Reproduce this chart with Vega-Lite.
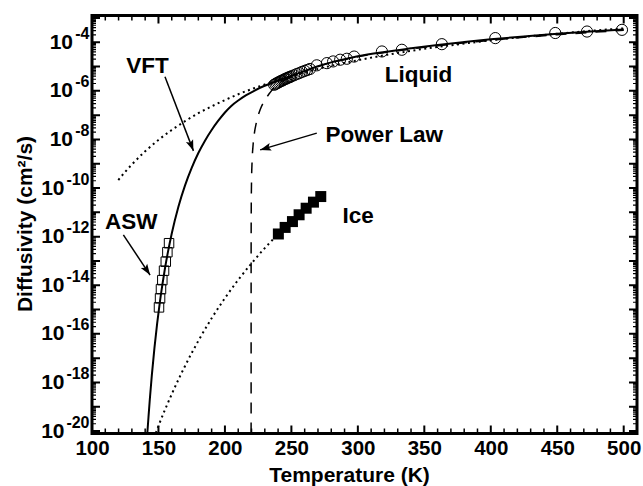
{
  "$schema": "https://vega.github.io/schema/vega-lite/v6.json",
  "width": 545,
  "height": 418,
  "autosize": "none",
  "padding": {"left": 92, "top": 15.5, "right": 6, "bottom": 52.5},
  "config": {
    "view": {"stroke": "black", "strokeWidth": 3},
    "font": "Liberation Sans",
    "axis": {"labelFont": "Liberation Sans", "titleFont": "Liberation Sans", "labelFontWeight": "bold", "titleFontWeight": "bold", "labelColor": "black", "titleColor": "black", "domain": false, "ticks": false, "grid": false, "labelFlush": false, "labelOverlap": false}
  },
  "datasets": {
    "liquid": [
      {"T": 237, "log10_D": -5.75}, {"T": 238, "log10_D": -5.72}, {"T": 239, "log10_D": -5.69}, {"T": 240, "log10_D": -5.66},
      {"T": 241, "log10_D": -5.63}, {"T": 242, "log10_D": -5.6}, {"T": 243, "log10_D": -5.58}, {"T": 244, "log10_D": -5.55},
      {"T": 245, "log10_D": -5.52}, {"T": 246, "log10_D": -5.5}, {"T": 247, "log10_D": -5.47}, {"T": 248, "log10_D": -5.45},
      {"T": 249, "log10_D": -5.43}, {"T": 250, "log10_D": -5.4}, {"T": 252, "log10_D": -5.36}, {"T": 254, "log10_D": -5.31},
      {"T": 256, "log10_D": -5.27}, {"T": 258, "log10_D": -5.22}, {"T": 260, "log10_D": -5.18}, {"T": 262, "log10_D": -5.14},
      {"T": 264, "log10_D": -5.1}, {"T": 269.1, "log10_D": -4.95}, {"T": 276.7, "log10_D": -4.86}, {"T": 281.4, "log10_D": -4.79},
      {"T": 286.7, "log10_D": -4.72}, {"T": 291.7, "log10_D": -4.68}, {"T": 297.2, "log10_D": -4.59}, {"T": 318.1, "log10_D": -4.38},
      {"T": 333.1, "log10_D": -4.31}, {"T": 363.2, "log10_D": -4.08}, {"T": 403.4, "log10_D": -3.83}, {"T": 448.5, "log10_D": -3.62},
      {"T": 472.4, "log10_D": -3.56}, {"T": 498.7, "log10_D": -3.49}
    ],
    "asw": [
      {"T": 157.96, "log10_D": -12.27}, {"T": 156.7, "log10_D": -12.64}, {"T": 155.5, "log10_D": -13.03}, {"T": 154.2, "log10_D": -13.4},
      {"T": 152.9, "log10_D": -13.79}, {"T": 151.9, "log10_D": -14.16}, {"T": 151.2, "log10_D": -14.54}, {"T": 150.4, "log10_D": -14.91}
    ],
    "ice": [
      {"T": 240.2, "log10_D": -11.89}, {"T": 245.3, "log10_D": -11.62}, {"T": 250.8, "log10_D": -11.38}, {"T": 255.8, "log10_D": -11.1},
      {"T": 261.1, "log10_D": -10.83}, {"T": 266.6, "log10_D": -10.58}, {"T": 272.1, "log10_D": -10.35}
    ],
    "vft": [
      {"T": 141.6, "log10_D": -20.1}, {"T": 142.5, "log10_D": -19.42}, {"T": 143.5, "log10_D": -18.69}, {"T": 145, "log10_D": -17.71},
      {"T": 147, "log10_D": -16.57}, {"T": 149, "log10_D": -15.58}, {"T": 151, "log10_D": -14.71}, {"T": 153, "log10_D": -13.95},
      {"T": 155, "log10_D": -13.27}, {"T": 157, "log10_D": -12.67}, {"T": 160, "log10_D": -11.87}, {"T": 165, "log10_D": -10.77},
      {"T": 170, "log10_D": -9.89}, {"T": 175, "log10_D": -9.17}, {"T": 180, "log10_D": -8.56}, {"T": 185, "log10_D": -8.05},
      {"T": 190, "log10_D": -7.61}, {"T": 195, "log10_D": -7.23}, {"T": 200, "log10_D": -6.89}, {"T": 205, "log10_D": -6.61},
      {"T": 210, "log10_D": -6.4}, {"T": 216, "log10_D": -6.18}, {"T": 222, "log10_D": -6.0}, {"T": 229, "log10_D": -5.81},
      {"T": 236, "log10_D": -5.66}, {"T": 240, "log10_D": -5.58}, {"T": 245, "log10_D": -5.48}, {"T": 250, "log10_D": -5.38},
      {"T": 255, "log10_D": -5.28}, {"T": 260, "log10_D": -5.18}, {"T": 265, "log10_D": -5.08}, {"T": 270, "log10_D": -4.99},
      {"T": 280, "log10_D": -4.83}, {"T": 290, "log10_D": -4.7}, {"T": 300, "log10_D": -4.58}, {"T": 320, "log10_D": -4.4},
      {"T": 340, "log10_D": -4.25}, {"T": 360, "log10_D": -4.11}, {"T": 380, "log10_D": -3.99}, {"T": 400, "log10_D": -3.88},
      {"T": 425, "log10_D": -3.76}, {"T": 450, "log10_D": -3.65}, {"T": 475, "log10_D": -3.56}, {"T": 500, "log10_D": -3.48}
    ],
    "power": [
      {"T": 219.7, "log10_D": -20.1}, {"T": 219.701, "log10_D": -15.2}, {"T": 219.71, "log10_D": -13.0}, {"T": 219.75, "log10_D": -11.47},
      {"T": 219.8, "log10_D": -10.81}, {"T": 220.0, "log10_D": -9.76}, {"T": 220.4, "log10_D": -8.95}, {"T": 221.2, "log10_D": -8.22},
      {"T": 222.2, "log10_D": -7.73}, {"T": 223.7, "log10_D": -7.29}, {"T": 226.7, "log10_D": -6.75}, {"T": 229.7, "log10_D": -6.41},
      {"T": 233.7, "log10_D": -6.09}, {"T": 237.7, "log10_D": -5.82}, {"T": 241, "log10_D": -5.68}, {"T": 245, "log10_D": -5.55},
      {"T": 250, "log10_D": -5.42}, {"T": 260, "log10_D": -5.19}, {"T": 270, "log10_D": -5.0}, {"T": 280, "log10_D": -4.84},
      {"T": 300, "log10_D": -4.6}, {"T": 325, "log10_D": -4.39}, {"T": 350, "log10_D": -4.21}, {"T": 400, "log10_D": -3.92},
      {"T": 450, "log10_D": -3.69}, {"T": 500, "log10_D": -3.51}
    ],
    "arr_liquid": [
      {"T": 119.8, "log10_D": -9.67}, {"T": 125, "log10_D": -9.33}, {"T": 130, "log10_D": -9.03}, {"T": 140, "log10_D": -8.49},
      {"T": 150, "log10_D": -8.02}, {"T": 160, "log10_D": -7.61}, {"T": 170, "log10_D": -7.25}, {"T": 180, "log10_D": -6.92},
      {"T": 190, "log10_D": -6.64}, {"T": 200, "log10_D": -6.38}, {"T": 210, "log10_D": -6.14}, {"T": 220, "log10_D": -5.93},
      {"T": 230, "log10_D": -5.74}, {"T": 240, "log10_D": -5.56}, {"T": 250, "log10_D": -5.4}, {"T": 260, "log10_D": -5.24},
      {"T": 280, "log10_D": -4.97}, {"T": 300, "log10_D": -4.74}, {"T": 325, "log10_D": -4.49}, {"T": 350, "log10_D": -4.27},
      {"T": 375, "log10_D": -4.09}, {"T": 400, "log10_D": -3.92}, {"T": 425, "log10_D": -3.78}, {"T": 450, "log10_D": -3.65},
      {"T": 475, "log10_D": -3.53}, {"T": 500, "log10_D": -3.43}
    ],
    "arr_ice": [
      {"T": 148, "log10_D": -20.08}, {"T": 150, "log10_D": -19.79}, {"T": 155, "log10_D": -19.11}, {"T": 160, "log10_D": -18.48},
      {"T": 170, "log10_D": -17.32}, {"T": 180, "log10_D": -16.29}, {"T": 190, "log10_D": -15.36}, {"T": 200, "log10_D": -14.53},
      {"T": 210, "log10_D": -13.78}, {"T": 220, "log10_D": -13.1}, {"T": 230, "log10_D": -12.47}, {"T": 240, "log10_D": -11.9}
    ],
    "arrows": [
      {"name": "VFT", "T": 154.9, "log10_D": -5.42, "T2": 176.3, "log10_D2": -8.47},
      {"name": "ASW", "T": 123.6, "log10_D": -11.93, "T2": 143.7, "log10_D2": -13.58},
      {"name": "Power Law", "T": 269.1, "log10_D": -7.74, "T2": 226.5, "log10_D2": -8.43}
    ],
    "labels": [
      {"text": "VFT", "T": 141.75, "log10_D": -5.28},
      {"text": "ASW", "T": 129.6, "log10_D": -11.7},
      {"text": "Power Law", "T": 319.9, "log10_D": -8.12},
      {"text": "Liquid", "T": 345.6, "log10_D": -5.62},
      {"text": "Ice", "T": 300.2, "log10_D": -11.45}
    ],
    "x_major_ticks": [
      {"T": 150, "log10_D": -20.1}, {"T": 200, "log10_D": -20.1}, {"T": 250, "log10_D": -20.1}, {"T": 300, "log10_D": -20.1}, {"T": 350, "log10_D": -20.1}, {"T": 400, "log10_D": -20.1}, {"T": 450, "log10_D": -20.1}, {"T": 500, "log10_D": -20.1},
      {"T": 150, "log10_D": -2.9}, {"T": 200, "log10_D": -2.9}, {"T": 250, "log10_D": -2.9}, {"T": 300, "log10_D": -2.9}, {"T": 350, "log10_D": -2.9}, {"T": 400, "log10_D": -2.9}, {"T": 450, "log10_D": -2.9}, {"T": 500, "log10_D": -2.9}
    ],
    "x_minor_ticks": [
      {"T": 110, "log10_D": -20.1}, {"T": 120, "log10_D": -20.1}, {"T": 130, "log10_D": -20.1}, {"T": 140, "log10_D": -20.1}, {"T": 160, "log10_D": -20.1}, {"T": 170, "log10_D": -20.1}, {"T": 180, "log10_D": -20.1}, {"T": 190, "log10_D": -20.1},
      {"T": 210, "log10_D": -20.1}, {"T": 220, "log10_D": -20.1}, {"T": 230, "log10_D": -20.1}, {"T": 240, "log10_D": -20.1}, {"T": 260, "log10_D": -20.1}, {"T": 270, "log10_D": -20.1}, {"T": 280, "log10_D": -20.1}, {"T": 290, "log10_D": -20.1},
      {"T": 310, "log10_D": -20.1}, {"T": 320, "log10_D": -20.1}, {"T": 330, "log10_D": -20.1}, {"T": 340, "log10_D": -20.1}, {"T": 360, "log10_D": -20.1}, {"T": 370, "log10_D": -20.1}, {"T": 380, "log10_D": -20.1}, {"T": 390, "log10_D": -20.1},
      {"T": 410, "log10_D": -20.1}, {"T": 420, "log10_D": -20.1}, {"T": 430, "log10_D": -20.1}, {"T": 440, "log10_D": -20.1}, {"T": 460, "log10_D": -20.1}, {"T": 470, "log10_D": -20.1}, {"T": 480, "log10_D": -20.1}, {"T": 490, "log10_D": -20.1},
      {"T": 110, "log10_D": -2.9}, {"T": 120, "log10_D": -2.9}, {"T": 130, "log10_D": -2.9}, {"T": 140, "log10_D": -2.9}, {"T": 160, "log10_D": -2.9}, {"T": 170, "log10_D": -2.9}, {"T": 180, "log10_D": -2.9}, {"T": 190, "log10_D": -2.9},
      {"T": 210, "log10_D": -2.9}, {"T": 220, "log10_D": -2.9}, {"T": 230, "log10_D": -2.9}, {"T": 240, "log10_D": -2.9}, {"T": 260, "log10_D": -2.9}, {"T": 270, "log10_D": -2.9}, {"T": 280, "log10_D": -2.9}, {"T": 290, "log10_D": -2.9},
      {"T": 310, "log10_D": -2.9}, {"T": 320, "log10_D": -2.9}, {"T": 330, "log10_D": -2.9}, {"T": 340, "log10_D": -2.9}, {"T": 360, "log10_D": -2.9}, {"T": 370, "log10_D": -2.9}, {"T": 380, "log10_D": -2.9}, {"T": 390, "log10_D": -2.9},
      {"T": 410, "log10_D": -2.9}, {"T": 420, "log10_D": -2.9}, {"T": 430, "log10_D": -2.9}, {"T": 440, "log10_D": -2.9}, {"T": 460, "log10_D": -2.9}, {"T": 470, "log10_D": -2.9}, {"T": 480, "log10_D": -2.9}, {"T": 490, "log10_D": -2.9}
    ],
    "y_major_ticks": [
      {"T": 100, "log10_D": -20}, {"T": 100, "log10_D": -19}, {"T": 100, "log10_D": -18}, {"T": 100, "log10_D": -17}, {"T": 100, "log10_D": -16}, {"T": 100, "log10_D": -15}, {"T": 100, "log10_D": -14}, {"T": 100, "log10_D": -13}, {"T": 100, "log10_D": -12},
      {"T": 100, "log10_D": -11}, {"T": 100, "log10_D": -10}, {"T": 100, "log10_D": -9}, {"T": 100, "log10_D": -8}, {"T": 100, "log10_D": -7}, {"T": 100, "log10_D": -6}, {"T": 100, "log10_D": -5}, {"T": 100, "log10_D": -4}, {"T": 100, "log10_D": -3},
      {"T": 510, "log10_D": -20}, {"T": 510, "log10_D": -19}, {"T": 510, "log10_D": -18}, {"T": 510, "log10_D": -17}, {"T": 510, "log10_D": -16}, {"T": 510, "log10_D": -15}, {"T": 510, "log10_D": -14}, {"T": 510, "log10_D": -13}, {"T": 510, "log10_D": -12},
      {"T": 510, "log10_D": -11}, {"T": 510, "log10_D": -10}, {"T": 510, "log10_D": -9}, {"T": 510, "log10_D": -8}, {"T": 510, "log10_D": -7}, {"T": 510, "log10_D": -6}, {"T": 510, "log10_D": -5}, {"T": 510, "log10_D": -4}, {"T": 510, "log10_D": -3}
    ],
    "y_minor_ticks": [
      {"T": 100, "log10_D": -20.09691}, {"T": 100, "log10_D": -20.04576},
      {"T": 100, "log10_D": -19.69897}, {"T": 100, "log10_D": -19.52288}, {"T": 100, "log10_D": -19.39794}, {"T": 100, "log10_D": -19.30103}, {"T": 100, "log10_D": -19.22185}, {"T": 100, "log10_D": -19.1549}, {"T": 100, "log10_D": -19.09691}, {"T": 100, "log10_D": -19.04576},
      {"T": 100, "log10_D": -18.69897}, {"T": 100, "log10_D": -18.52288}, {"T": 100, "log10_D": -18.39794}, {"T": 100, "log10_D": -18.30103}, {"T": 100, "log10_D": -18.22185}, {"T": 100, "log10_D": -18.1549}, {"T": 100, "log10_D": -18.09691}, {"T": 100, "log10_D": -18.04576},
      {"T": 100, "log10_D": -17.69897}, {"T": 100, "log10_D": -17.52288}, {"T": 100, "log10_D": -17.39794}, {"T": 100, "log10_D": -17.30103}, {"T": 100, "log10_D": -17.22185}, {"T": 100, "log10_D": -17.1549}, {"T": 100, "log10_D": -17.09691}, {"T": 100, "log10_D": -17.04576},
      {"T": 100, "log10_D": -16.69897}, {"T": 100, "log10_D": -16.52288}, {"T": 100, "log10_D": -16.39794}, {"T": 100, "log10_D": -16.30103}, {"T": 100, "log10_D": -16.22185}, {"T": 100, "log10_D": -16.1549}, {"T": 100, "log10_D": -16.09691}, {"T": 100, "log10_D": -16.04576},
      {"T": 100, "log10_D": -15.69897}, {"T": 100, "log10_D": -15.52288}, {"T": 100, "log10_D": -15.39794}, {"T": 100, "log10_D": -15.30103}, {"T": 100, "log10_D": -15.22185}, {"T": 100, "log10_D": -15.1549}, {"T": 100, "log10_D": -15.09691}, {"T": 100, "log10_D": -15.04576},
      {"T": 100, "log10_D": -14.69897}, {"T": 100, "log10_D": -14.52288}, {"T": 100, "log10_D": -14.39794}, {"T": 100, "log10_D": -14.30103}, {"T": 100, "log10_D": -14.22185}, {"T": 100, "log10_D": -14.1549}, {"T": 100, "log10_D": -14.09691}, {"T": 100, "log10_D": -14.04576},
      {"T": 100, "log10_D": -13.69897}, {"T": 100, "log10_D": -13.52288}, {"T": 100, "log10_D": -13.39794}, {"T": 100, "log10_D": -13.30103}, {"T": 100, "log10_D": -13.22185}, {"T": 100, "log10_D": -13.1549}, {"T": 100, "log10_D": -13.09691}, {"T": 100, "log10_D": -13.04576},
      {"T": 100, "log10_D": -12.69897}, {"T": 100, "log10_D": -12.52288}, {"T": 100, "log10_D": -12.39794}, {"T": 100, "log10_D": -12.30103}, {"T": 100, "log10_D": -12.22185}, {"T": 100, "log10_D": -12.1549}, {"T": 100, "log10_D": -12.09691}, {"T": 100, "log10_D": -12.04576},
      {"T": 100, "log10_D": -11.69897}, {"T": 100, "log10_D": -11.52288}, {"T": 100, "log10_D": -11.39794}, {"T": 100, "log10_D": -11.30103}, {"T": 100, "log10_D": -11.22185}, {"T": 100, "log10_D": -11.1549}, {"T": 100, "log10_D": -11.09691}, {"T": 100, "log10_D": -11.04576},
      {"T": 100, "log10_D": -10.69897}, {"T": 100, "log10_D": -10.52288}, {"T": 100, "log10_D": -10.39794}, {"T": 100, "log10_D": -10.30103}, {"T": 100, "log10_D": -10.22185}, {"T": 100, "log10_D": -10.1549}, {"T": 100, "log10_D": -10.09691}, {"T": 100, "log10_D": -10.04576},
      {"T": 100, "log10_D": -9.69897}, {"T": 100, "log10_D": -9.52288}, {"T": 100, "log10_D": -9.39794}, {"T": 100, "log10_D": -9.30103}, {"T": 100, "log10_D": -9.22185}, {"T": 100, "log10_D": -9.1549}, {"T": 100, "log10_D": -9.09691}, {"T": 100, "log10_D": -9.04576},
      {"T": 100, "log10_D": -8.69897}, {"T": 100, "log10_D": -8.52288}, {"T": 100, "log10_D": -8.39794}, {"T": 100, "log10_D": -8.30103}, {"T": 100, "log10_D": -8.22185}, {"T": 100, "log10_D": -8.1549}, {"T": 100, "log10_D": -8.09691}, {"T": 100, "log10_D": -8.04576},
      {"T": 100, "log10_D": -7.69897}, {"T": 100, "log10_D": -7.52288}, {"T": 100, "log10_D": -7.39794}, {"T": 100, "log10_D": -7.30103}, {"T": 100, "log10_D": -7.22185}, {"T": 100, "log10_D": -7.1549}, {"T": 100, "log10_D": -7.09691}, {"T": 100, "log10_D": -7.04576},
      {"T": 100, "log10_D": -6.69897}, {"T": 100, "log10_D": -6.52288}, {"T": 100, "log10_D": -6.39794}, {"T": 100, "log10_D": -6.30103}, {"T": 100, "log10_D": -6.22185}, {"T": 100, "log10_D": -6.1549}, {"T": 100, "log10_D": -6.09691}, {"T": 100, "log10_D": -6.04576},
      {"T": 100, "log10_D": -5.69897}, {"T": 100, "log10_D": -5.52288}, {"T": 100, "log10_D": -5.39794}, {"T": 100, "log10_D": -5.30103}, {"T": 100, "log10_D": -5.22185}, {"T": 100, "log10_D": -5.1549}, {"T": 100, "log10_D": -5.09691}, {"T": 100, "log10_D": -5.04576},
      {"T": 100, "log10_D": -4.69897}, {"T": 100, "log10_D": -4.52288}, {"T": 100, "log10_D": -4.39794}, {"T": 100, "log10_D": -4.30103}, {"T": 100, "log10_D": -4.22185}, {"T": 100, "log10_D": -4.1549}, {"T": 100, "log10_D": -4.09691}, {"T": 100, "log10_D": -4.04576},
      {"T": 100, "log10_D": -3.69897}, {"T": 100, "log10_D": -3.52288}, {"T": 100, "log10_D": -3.39794}, {"T": 100, "log10_D": -3.30103}, {"T": 100, "log10_D": -3.22185}, {"T": 100, "log10_D": -3.1549}, {"T": 100, "log10_D": -3.09691}, {"T": 100, "log10_D": -3.04576},
      {"T": 510, "log10_D": -20.09691}, {"T": 510, "log10_D": -20.04576},
      {"T": 510, "log10_D": -19.69897}, {"T": 510, "log10_D": -19.52288}, {"T": 510, "log10_D": -19.39794}, {"T": 510, "log10_D": -19.30103}, {"T": 510, "log10_D": -19.22185}, {"T": 510, "log10_D": -19.1549}, {"T": 510, "log10_D": -19.09691}, {"T": 510, "log10_D": -19.04576},
      {"T": 510, "log10_D": -18.69897}, {"T": 510, "log10_D": -18.52288}, {"T": 510, "log10_D": -18.39794}, {"T": 510, "log10_D": -18.30103}, {"T": 510, "log10_D": -18.22185}, {"T": 510, "log10_D": -18.1549}, {"T": 510, "log10_D": -18.09691}, {"T": 510, "log10_D": -18.04576},
      {"T": 510, "log10_D": -17.69897}, {"T": 510, "log10_D": -17.52288}, {"T": 510, "log10_D": -17.39794}, {"T": 510, "log10_D": -17.30103}, {"T": 510, "log10_D": -17.22185}, {"T": 510, "log10_D": -17.1549}, {"T": 510, "log10_D": -17.09691}, {"T": 510, "log10_D": -17.04576},
      {"T": 510, "log10_D": -16.69897}, {"T": 510, "log10_D": -16.52288}, {"T": 510, "log10_D": -16.39794}, {"T": 510, "log10_D": -16.30103}, {"T": 510, "log10_D": -16.22185}, {"T": 510, "log10_D": -16.1549}, {"T": 510, "log10_D": -16.09691}, {"T": 510, "log10_D": -16.04576},
      {"T": 510, "log10_D": -15.69897}, {"T": 510, "log10_D": -15.52288}, {"T": 510, "log10_D": -15.39794}, {"T": 510, "log10_D": -15.30103}, {"T": 510, "log10_D": -15.22185}, {"T": 510, "log10_D": -15.1549}, {"T": 510, "log10_D": -15.09691}, {"T": 510, "log10_D": -15.04576},
      {"T": 510, "log10_D": -14.69897}, {"T": 510, "log10_D": -14.52288}, {"T": 510, "log10_D": -14.39794}, {"T": 510, "log10_D": -14.30103}, {"T": 510, "log10_D": -14.22185}, {"T": 510, "log10_D": -14.1549}, {"T": 510, "log10_D": -14.09691}, {"T": 510, "log10_D": -14.04576},
      {"T": 510, "log10_D": -13.69897}, {"T": 510, "log10_D": -13.52288}, {"T": 510, "log10_D": -13.39794}, {"T": 510, "log10_D": -13.30103}, {"T": 510, "log10_D": -13.22185}, {"T": 510, "log10_D": -13.1549}, {"T": 510, "log10_D": -13.09691}, {"T": 510, "log10_D": -13.04576},
      {"T": 510, "log10_D": -12.69897}, {"T": 510, "log10_D": -12.52288}, {"T": 510, "log10_D": -12.39794}, {"T": 510, "log10_D": -12.30103}, {"T": 510, "log10_D": -12.22185}, {"T": 510, "log10_D": -12.1549}, {"T": 510, "log10_D": -12.09691}, {"T": 510, "log10_D": -12.04576},
      {"T": 510, "log10_D": -11.69897}, {"T": 510, "log10_D": -11.52288}, {"T": 510, "log10_D": -11.39794}, {"T": 510, "log10_D": -11.30103}, {"T": 510, "log10_D": -11.22185}, {"T": 510, "log10_D": -11.1549}, {"T": 510, "log10_D": -11.09691}, {"T": 510, "log10_D": -11.04576},
      {"T": 510, "log10_D": -10.69897}, {"T": 510, "log10_D": -10.52288}, {"T": 510, "log10_D": -10.39794}, {"T": 510, "log10_D": -10.30103}, {"T": 510, "log10_D": -10.22185}, {"T": 510, "log10_D": -10.1549}, {"T": 510, "log10_D": -10.09691}, {"T": 510, "log10_D": -10.04576},
      {"T": 510, "log10_D": -9.69897}, {"T": 510, "log10_D": -9.52288}, {"T": 510, "log10_D": -9.39794}, {"T": 510, "log10_D": -9.30103}, {"T": 510, "log10_D": -9.22185}, {"T": 510, "log10_D": -9.1549}, {"T": 510, "log10_D": -9.09691}, {"T": 510, "log10_D": -9.04576},
      {"T": 510, "log10_D": -8.69897}, {"T": 510, "log10_D": -8.52288}, {"T": 510, "log10_D": -8.39794}, {"T": 510, "log10_D": -8.30103}, {"T": 510, "log10_D": -8.22185}, {"T": 510, "log10_D": -8.1549}, {"T": 510, "log10_D": -8.09691}, {"T": 510, "log10_D": -8.04576},
      {"T": 510, "log10_D": -7.69897}, {"T": 510, "log10_D": -7.52288}, {"T": 510, "log10_D": -7.39794}, {"T": 510, "log10_D": -7.30103}, {"T": 510, "log10_D": -7.22185}, {"T": 510, "log10_D": -7.1549}, {"T": 510, "log10_D": -7.09691}, {"T": 510, "log10_D": -7.04576},
      {"T": 510, "log10_D": -6.69897}, {"T": 510, "log10_D": -6.52288}, {"T": 510, "log10_D": -6.39794}, {"T": 510, "log10_D": -6.30103}, {"T": 510, "log10_D": -6.22185}, {"T": 510, "log10_D": -6.1549}, {"T": 510, "log10_D": -6.09691}, {"T": 510, "log10_D": -6.04576},
      {"T": 510, "log10_D": -5.69897}, {"T": 510, "log10_D": -5.52288}, {"T": 510, "log10_D": -5.39794}, {"T": 510, "log10_D": -5.30103}, {"T": 510, "log10_D": -5.22185}, {"T": 510, "log10_D": -5.1549}, {"T": 510, "log10_D": -5.09691}, {"T": 510, "log10_D": -5.04576},
      {"T": 510, "log10_D": -4.69897}, {"T": 510, "log10_D": -4.52288}, {"T": 510, "log10_D": -4.39794}, {"T": 510, "log10_D": -4.30103}, {"T": 510, "log10_D": -4.22185}, {"T": 510, "log10_D": -4.1549}, {"T": 510, "log10_D": -4.09691}, {"T": 510, "log10_D": -4.04576},
      {"T": 510, "log10_D": -3.69897}, {"T": 510, "log10_D": -3.52288}, {"T": 510, "log10_D": -3.39794}, {"T": 510, "log10_D": -3.30103}, {"T": 510, "log10_D": -3.22185}, {"T": 510, "log10_D": -3.1549}, {"T": 510, "log10_D": -3.09691}, {"T": 510, "log10_D": -3.04576}
    ]
  },
  "layer": [
    {
      "data": {"name": "arr_liquid"},
      "mark": {"type": "line", "color": "black", "strokeWidth": 2, "strokeDash": [2, 3.5], "interpolate": "monotone", "clip": true},
      "encoding": {
        "x": {"field": "T", "type": "quantitative", "scale": {"domain": [100, 510], "nice": false, "zero": false},
          "axis": {"orient": "bottom", "values": [100, 150, 200, 250, 300, 350, 400, 450, 500], "format": "d", "ticks": false, "labelFontSize": 20.5, "labelPadding": 5, "title": "Temperature (K)", "titleFontSize": 21, "titleBaseline": "alphabetic", "titleY": 47.5, "titleX": 257}},
        "y": {"field": "log10_D", "type": "quantitative", "scale": {"domain": [-20.1, -2.9], "nice": false, "zero": false},
          "axis": {"orient": "left", "values": [-20, -18, -16, -14, -12, -10, -8, -6, -4], "ticks": false, "labelExpr": "'10'", "labelFontSize": 21, "labelAlign": "right", "labelBaseline": "middle", "labelPadding": {"condition": {"test": "datum.value <= -10", "value": 28}, "value": 19.5}, "title": "Diffusivity (cm²/s)", "titleFontSize": 21, "titleBaseline": "alphabetic", "titleAngle": -90, "titleX": -60.3, "titleY": 208}}
      }
    },
    {
      "data": {"name": "arr_ice"},
      "mark": {"type": "line", "color": "black", "strokeWidth": 2, "strokeDash": [2, 3.5], "interpolate": "monotone", "clip": true},
      "encoding": {
        "x": {"field": "T", "type": "quantitative", "scale": {"domain": [100, 510], "nice": false, "zero": false}, "axis": null},
        "y": {"field": "log10_D", "type": "quantitative", "scale": {"domain": [-20.1, -2.9], "nice": false, "zero": false},
          "axis": {"orient": "left", "values": [-20, -18, -16, -14, -12, -10, -8, -6, -4], "ticks": false, "labelExpr": "'' + datum.value", "labelFontSize": 16, "labelAlign": "right", "labelBaseline": "middle", "labelPadding": 3, "labelOffset": -9, "title": null}}
      }
    },
    {
      "data": {"name": "x_major_ticks"},
      "mark": {"type": "tick", "orient": "vertical", "size": 16, "thickness": 2, "color": "black", "opacity": 1, "clip": true},
      "encoding": {
        "x": {"field": "T", "type": "quantitative", "scale": {"domain": [100, 510], "nice": false, "zero": false}, "axis": null},
        "y": {"field": "log10_D", "type": "quantitative", "scale": {"domain": [-20.1, -2.9], "nice": false, "zero": false}, "axis": null}
      }
    },
    {
      "data": {"name": "x_minor_ticks"},
      "mark": {"type": "tick", "orient": "vertical", "size": 10, "thickness": 1.5, "color": "black", "opacity": 1, "clip": true},
      "encoding": {
        "x": {"field": "T", "type": "quantitative", "scale": {"domain": [100, 510], "nice": false, "zero": false}, "axis": null},
        "y": {"field": "log10_D", "type": "quantitative", "scale": {"domain": [-20.1, -2.9], "nice": false, "zero": false}, "axis": null}
      }
    },
    {
      "data": {"name": "y_major_ticks"},
      "mark": {"type": "tick", "orient": "horizontal", "size": 16, "thickness": 2, "color": "black", "opacity": 1, "clip": true},
      "encoding": {
        "x": {"field": "T", "type": "quantitative", "scale": {"domain": [100, 510], "nice": false, "zero": false}, "axis": null},
        "y": {"field": "log10_D", "type": "quantitative", "scale": {"domain": [-20.1, -2.9], "nice": false, "zero": false}, "axis": null}
      }
    },
    {
      "data": {"name": "y_minor_ticks"},
      "mark": {"type": "tick", "orient": "horizontal", "size": 8, "thickness": 1.2, "color": "black", "opacity": 1, "clip": true},
      "encoding": {
        "x": {"field": "T", "type": "quantitative", "scale": {"domain": [100, 510], "nice": false, "zero": false}, "axis": null},
        "y": {"field": "log10_D", "type": "quantitative", "scale": {"domain": [-20.1, -2.9], "nice": false, "zero": false}, "axis": null}
      }
    },
    {
      "data": {"name": "vft"},
      "mark": {"type": "line", "color": "black", "strokeWidth": 2, "interpolate": "monotone", "clip": true},
      "encoding": {
        "x": {"field": "T", "type": "quantitative", "scale": {"domain": [100, 510], "nice": false, "zero": false}, "axis": null},
        "y": {"field": "log10_D", "type": "quantitative", "scale": {"domain": [-20.1, -2.9], "nice": false, "zero": false}, "axis": null}
      }
    },
    {
      "data": {"name": "power"},
      "mark": {"type": "line", "color": "black", "strokeWidth": 1.5, "strokeDash": [11, 9], "interpolate": "monotone", "clip": true},
      "encoding": {
        "x": {"field": "T", "type": "quantitative", "scale": {"domain": [100, 510], "nice": false, "zero": false}, "axis": null},
        "y": {"field": "log10_D", "type": "quantitative", "scale": {"domain": [-20.1, -2.9], "nice": false, "zero": false}, "axis": null}
      }
    },
    {
      "data": {"name": "liquid"},
      "mark": {"type": "point", "shape": "circle", "filled": false, "color": "black", "strokeWidth": 1, "size": 125, "opacity": 1},
      "encoding": {
        "x": {"field": "T", "type": "quantitative", "scale": {"domain": [100, 510], "nice": false, "zero": false}, "axis": null},
        "y": {"field": "log10_D", "type": "quantitative", "scale": {"domain": [-20.1, -2.9], "nice": false, "zero": false}, "axis": null}
      }
    },
    {
      "data": {"name": "asw"},
      "mark": {"type": "point", "shape": "square", "filled": false, "color": "black", "strokeWidth": 1, "size": 90, "opacity": 1},
      "encoding": {
        "x": {"field": "T", "type": "quantitative", "scale": {"domain": [100, 510], "nice": false, "zero": false}, "axis": null},
        "y": {"field": "log10_D", "type": "quantitative", "scale": {"domain": [-20.1, -2.9], "nice": false, "zero": false}, "axis": null}
      }
    },
    {
      "data": {"name": "ice"},
      "mark": {"type": "point", "shape": "square", "filled": true, "color": "black", "size": 121, "opacity": 1},
      "encoding": {
        "x": {"field": "T", "type": "quantitative", "scale": {"domain": [100, 510], "nice": false, "zero": false}, "axis": null},
        "y": {"field": "log10_D", "type": "quantitative", "scale": {"domain": [-20.1, -2.9], "nice": false, "zero": false}, "axis": null}
      }
    },
    {
      "data": {"name": "arrows"},
      "mark": {"type": "rule", "color": "black", "strokeWidth": 1.5},
      "encoding": {
        "x": {"field": "T", "type": "quantitative", "scale": {"domain": [100, 510], "nice": false, "zero": false}, "axis": null},
        "y": {"field": "log10_D", "type": "quantitative", "scale": {"domain": [-20.1, -2.9], "nice": false, "zero": false}, "axis": null},
        "x2": {"field": "T2"},
        "y2": {"field": "log10_D2"}
      }
    },
    {
      "data": {"name": "arrows"},
      "transform": [{"filter": "datum.name == 'VFT'"}],
      "mark": {"type": "point", "shape": "M0,0L-1,-0.35L-0.8,0L-1,0.35Z", "filled": true, "color": "black", "size": 484, "angle": 69, "opacity": 1},
      "encoding": {
        "x": {"field": "T2", "type": "quantitative", "scale": {"domain": [100, 510], "nice": false, "zero": false}, "axis": null},
        "y": {"field": "log10_D2", "type": "quantitative", "scale": {"domain": [-20.1, -2.9], "nice": false, "zero": false}, "axis": null}
      }
    },
    {
      "data": {"name": "arrows"},
      "transform": [{"filter": "datum.name == 'ASW'"}],
      "mark": {"type": "point", "shape": "M0,0L-1,-0.35L-0.8,0L-1,0.35Z", "filled": true, "color": "black", "size": 484, "angle": 56.3, "opacity": 1},
      "encoding": {
        "x": {"field": "T2", "type": "quantitative", "scale": {"domain": [100, 510], "nice": false, "zero": false}, "axis": null},
        "y": {"field": "log10_D2", "type": "quantitative", "scale": {"domain": [-20.1, -2.9], "nice": false, "zero": false}, "axis": null}
      }
    },
    {
      "data": {"name": "arrows"},
      "transform": [{"filter": "datum.name == 'Power Law'"}],
      "mark": {"type": "point", "shape": "M0,0L-1,-0.35L-0.8,0L-1,0.35Z", "filled": true, "color": "black", "size": 484, "angle": 163.5, "opacity": 1},
      "encoding": {
        "x": {"field": "T2", "type": "quantitative", "scale": {"domain": [100, 510], "nice": false, "zero": false}, "axis": null},
        "y": {"field": "log10_D2", "type": "quantitative", "scale": {"domain": [-20.1, -2.9], "nice": false, "zero": false}, "axis": null}
      }
    },
    {
      "data": {"name": "labels"},
      "mark": {"type": "text", "font": "Liberation Sans", "fontWeight": "bold", "fontSize": 22.5, "align": "center", "baseline": "alphabetic", "color": "black"},
      "encoding": {
        "x": {"field": "T", "type": "quantitative", "scale": {"domain": [100, 510], "nice": false, "zero": false}, "axis": null},
        "y": {"field": "log10_D", "type": "quantitative", "scale": {"domain": [-20.1, -2.9], "nice": false, "zero": false}, "axis": null},
        "text": {"field": "text", "type": "nominal"}
      }
    }
  ],
  "resolve": {"axis": {"x": "independent", "y": "independent"}}
}
